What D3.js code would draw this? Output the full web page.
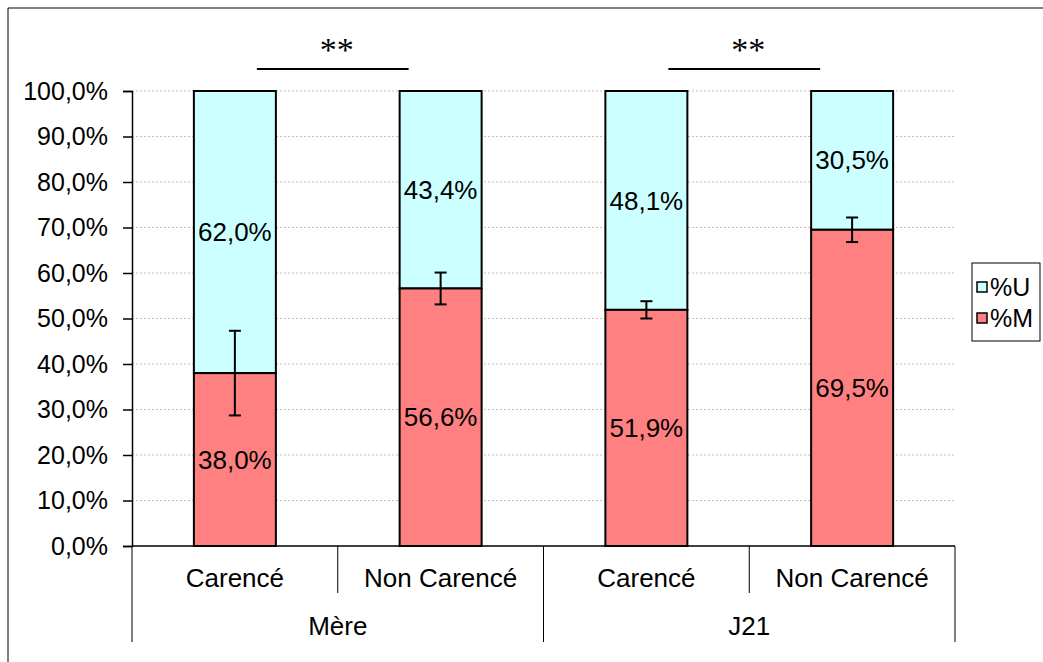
<!DOCTYPE html>
<html>
<head>
<meta charset="utf-8">
<script src="https://cdn.jsdelivr.net/npm/d3@7"></script>
<style>
  body { margin: 0; background: #fff; }
  svg { display: block; }
</style>
</head>
<body>
<svg id="chart" width="1043" height="662"></svg>
<script>
// values
const groups = ["Mère", "J21"];
const categories = ["Carencé", "Non Carencé", "Carencé", "Non Carencé"];
const groupOf = [0, 0, 1, 1];
const pctM = [38.0, 56.6, 51.9, 69.5];
const pctU = [62.0, 43.4, 48.1, 30.5];
const errM = [9.3, 3.5, 1.9, 2.7];
const yTicks = [0, 10, 20, 30, 40, 50, 60, 70, 80, 90, 100];
const signif = [{ from: 0, to: 1, label: "**" }, { from: 2, to: 3, label: "**" }];

const COL_U = "#ccffff", COL_M = "#ff8080";
const FONT = "Liberation Sans, Arial, sans-serif";
const fmt = v => v.toFixed(1).replace(".", ",") + "%";

const svg = d3.select("#chart");

// outer frame (top + left visible)
svg.append("line").attr("x1", 8).attr("y1", 8).attr("x2", 1043).attr("y2", 8)
  .attr("stroke", "#808080").attr("stroke-width", 2);
svg.append("line").attr("x1", 8).attr("y1", 8).attr("x2", 8).attr("y2", 662)
  .attr("stroke", "#000").attr("stroke-width", 1);

const x = d3.scaleBand().domain(d3.range(categories.length)).range([132, 955]);
const y = d3.scaleLinear().domain([0, 100]).range([546, 91]);
const barW = 82;

// gridlines
svg.append("g").selectAll("line").data(yTicks.filter(d => d > 0)).join("line")
  .attr("x1", 132).attr("x2", 955)
  .attr("y1", d => y(d)).attr("y2", d => y(d))
  .attr("stroke", "#c0c0c0").attr("stroke-width", 1).attr("stroke-dasharray", "2,2");

// y axis
const yAxis = d3.axisLeft(y).tickValues(yTicks).tickSize(9).tickPadding(15).tickFormat(fmt);
const ya = svg.append("g").attr("transform", "translate(132,0)").call(yAxis);
ya.select(".domain").attr("stroke", "#000").attr("stroke-width", 1.5);
ya.selectAll(".tick line").attr("stroke", "#000").attr("stroke-width", 1.5);
ya.selectAll("text").attr("font-family", FONT).attr("font-size", 25).attr("fill", "#000");

// bars
const bars = svg.append("g");
categories.forEach((c, i) => {
  const cx = x(i) + x.bandwidth() / 2;
  bars.append("rect")
    .attr("x", cx - barW / 2).attr("y", y(100)).attr("width", barW)
    .attr("height", y(pctM[i]) - y(100))
    .attr("fill", COL_U).attr("stroke", "#000").attr("stroke-width", 2);
  bars.append("rect")
    .attr("x", cx - barW / 2).attr("y", y(pctM[i])).attr("width", barW)
    .attr("height", y(0) - y(pctM[i]))
    .attr("fill", COL_M).attr("stroke", "#000").attr("stroke-width", 2);

  // error bar on %M
  const eTop = y(pctM[i] + errM[i]), eBot = y(pctM[i] - errM[i]);
  bars.append("line").attr("x1", cx).attr("x2", cx).attr("y1", eTop).attr("y2", eBot)
    .attr("stroke", "#000").attr("stroke-width", 2);
  [eTop, eBot].forEach(yy =>
    bars.append("line").attr("x1", cx - 6).attr("x2", cx + 6).attr("y1", yy).attr("y2", yy)
      .attr("stroke", "#000").attr("stroke-width", 2));

  bars.append("text").attr("x", cx).attr("y", y(pctM[i] + pctU[i] / 2))
    .attr("text-anchor", "middle").attr("dy", "0.35em")
    .attr("font-family", FONT).attr("font-size", 26).text(fmt(pctU[i]));
  bars.append("text").attr("x", cx).attr("y", y(pctM[i] / 2))
    .attr("text-anchor", "middle").attr("dy", "0.35em")
    .attr("font-family", FONT).attr("font-size", 26).text(fmt(pctM[i]));
});

// x axis line
svg.append("line").attr("x1", 132).attr("x2", 955).attr("y1", 546).attr("y2", 546)
  .attr("stroke", "#000").attr("stroke-width", 1.5);

// category separators and labels
const xa = svg.append("g");
d3.range(categories.length + 1).forEach(i => {
  const xx = i < categories.length ? x(i) : x.range()[1];
  const long = i % 2 === 0;
  xa.append("line").attr("x1", xx).attr("x2", xx).attr("y1", 546).attr("y2", long ? 642 : 593)
    .attr("stroke", "#000").attr("stroke-width", 1);
});
categories.forEach((c, i) => {
  xa.append("text").attr("x", x(i) + x.bandwidth() / 2).attr("y", 578)
    .attr("text-anchor", "middle").attr("dy", "0.35em")
    .attr("font-family", FONT).attr("font-size", 26).text(c);
});
groups.forEach((g, gi) => {
  const idx = d3.range(categories.length).filter(i => groupOf[i] === gi);
  const x0 = x(idx[0]), x1 = x(idx[idx.length - 1]) + x.bandwidth();
  xa.append("text").attr("x", (x0 + x1) / 2).attr("y", 626)
    .attr("text-anchor", "middle").attr("dy", "0.35em")
    .attr("font-family", FONT).attr("font-size", 26).text(g);
});

// significance markers
signif.forEach(s => {
  const a = x(s.from) + x.bandwidth() / 2 + 22;
  const b = x(s.to) + x.bandwidth() / 2 - 32;
  svg.append("line").attr("x1", a).attr("x2", b).attr("y1", 69).attr("y2", 69)
    .attr("stroke", "#000").attr("stroke-width", 2);
  svg.append("text").attr("x", (a + b) / 2 + 4).attr("y", 61)
    .attr("text-anchor", "middle")
    .attr("font-family", "Liberation Serif, Times New Roman, serif").attr("font-size", 34)
    .text(s.label);
});

// legend
const lg = svg.append("g");
lg.append("rect").attr("x", 972).attr("y", 263).attr("width", 68).attr("height", 78)
  .attr("fill", "#fff").attr("stroke", "#000").attr("stroke-width", 1);
[["%U", COL_U], ["%M", COL_M]].forEach(([lab, col], i) => {
  const yy = 287 + i * 31;
  lg.append("rect").attr("x", 977).attr("y", yy - 5).attr("width", 10).attr("height", 10)
    .attr("fill", col).attr("stroke", "#000").attr("stroke-width", 1.5);
  lg.append("text").attr("x", 990).attr("y", yy).attr("dy", "0.35em")
    .attr("font-family", FONT).attr("font-size", 25).text(lab);
});
</script>
</body>
</html>
